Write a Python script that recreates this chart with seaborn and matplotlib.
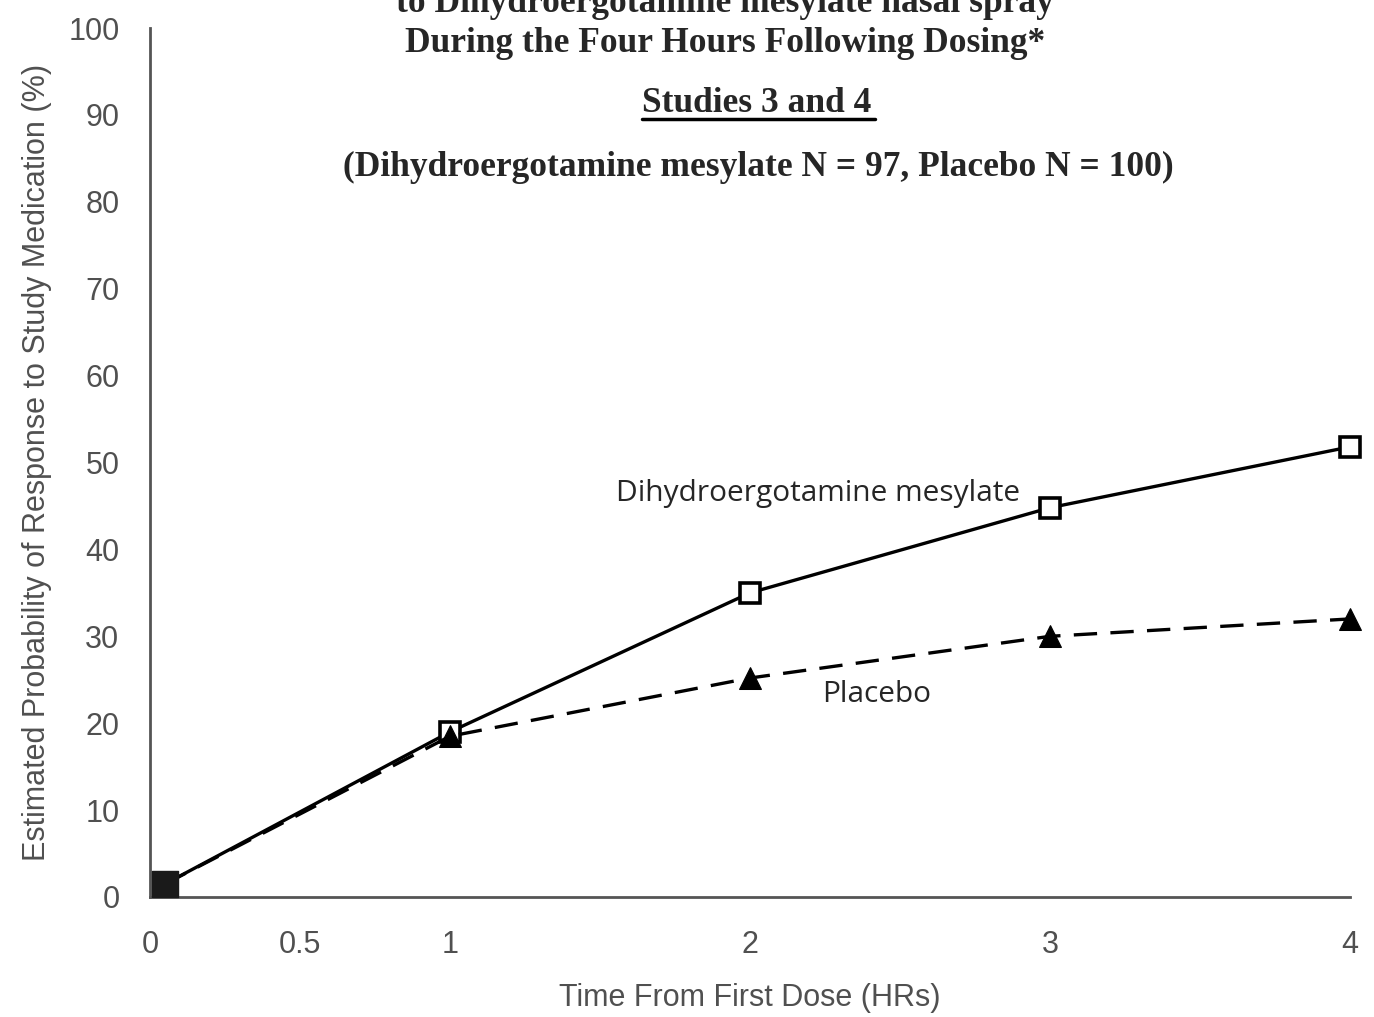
import numpy as np
import pandas as pd
import matplotlib
matplotlib.use('Agg')
import matplotlib.pyplot as plt
import seaborn as sns

# data
hours = [0.05, 1, 2, 3, 4]
dhe = [1.5, 19, 35, 44.8, 51.8]
placebo = [1.5, 18.5, 25.2, 30, 32]
x_ticks = [0, 0.5, 1, 1.5, 2, 2.5, 3, 3.5, 4]
x_labels = ['0', '0.5', '1', '', '2', '', '3', '', '4']
y_ticks = [0, 10, 20, 30, 40, 50, 60, 70, 80, 90, 100]

df = pd.DataFrame({'hours': hours, 'dhe': dhe, 'placebo': placebo})

sns.set_style('white')
plt.rcParams['font.family'] = ['Liberation Sans', 'DejaVu Sans']

fig = plt.figure(figsize=(13.74, 10.17), dpi=100)
ax = fig.add_axes([150 / 1374, 1 - 897 / 1017, 1200 / 1374, (897 - 28) / 1017])

#DHE line with open squares
sns.lineplot(data=df, x='hours', y='dhe', ax=ax, color='black', lw=2.4,
             marker='s', markersize=15, markerfacecolor='white',
             markeredgecolor='black', markeredgewidth=2.6, clip_on=False, zorder=3)
#placebo dashed with triangles
sns.lineplot(data=df, x='hours', y='placebo', ax=ax, color='black', lw=2.4,
             marker='^', markersize=16, markerfacecolor='black',
             markeredgecolor='black', clip_on=False, zorder=4)
ax.lines[-1].set_dashes([7, 4])

# starting point is a filled square
ax.scatter(df['hours'][:1], df['dhe'][:1], marker='s', s=330, color='#1a1a1a',
           zorder=5, clip_on=False)

ax.set_xlim(0, 4)
ax.set_ylim(0, 100)
ax.set_xticks(x_ticks)
ax.set_xticklabels(x_labels)
ax.set_yticks(y_ticks)
ax.tick_params(axis='both', length=14, width=1.8, color='#555555',
               labelsize=22, labelcolor='#505050', pad=8, direction='out')
ax.tick_params(axis='x', pad=10)
sns.despine(ax=ax)
for s in ['left', 'bottom']:
    ax.spines[s].set_color('#555555')
    ax.spines[s].set_linewidth(2)

ax.set_xlabel('Time From First Dose (HRs)', fontsize=22, color='#505050',
              labelpad=16)
ax.set_ylabel('Estimated Probability of Response to Study Medication (%)',
              fontsize=22, color='#505050', labelpad=12)

# series labels
ax.text(2.9, 46.4, 'Dihydroergotamine mesylate', fontsize=21.5, ha='right',
        va='center', family=['Open Sans', 'DejaVu Sans'])
ax.text(2.24, 23.3, 'Placebo', fontsize=21.5, ha='left', va='center',
        family=['Open Sans', 'DejaVu Sans'])

# title block
tfont = dict(family=['Liberation Serif', 'DejaVu Serif'], fontweight='bold',
             fontsize=25.5, ha='center')
fig.text(725 / 1374, 1 - 12 / 1017, 'to Dihydroergotamine mesylate nasal spray',
         va='baseline', **tfont)
fig.text(725 / 1374, 1 - 52 / 1017, 'During the Four Hours Following Dosing*',
         va='baseline', **tfont)
fig.text(757 / 1374, 1 - 112 / 1017, 'Studies 3 and 4', va='baseline', **tfont)
fig.add_artist(plt.Line2D([642 / 1374, 875 / 1374], [1 - 119 / 1017, 1 - 119 / 1017],
                          color='black', lw=2.5))
fig.text(758 / 1374, 1 - 176 / 1017,
         '(Dihydroergotamine mesylate N = 97, Placebo N = 100)',
         va='baseline', **tfont)

fig.savefig('out.png', dpi=100)
